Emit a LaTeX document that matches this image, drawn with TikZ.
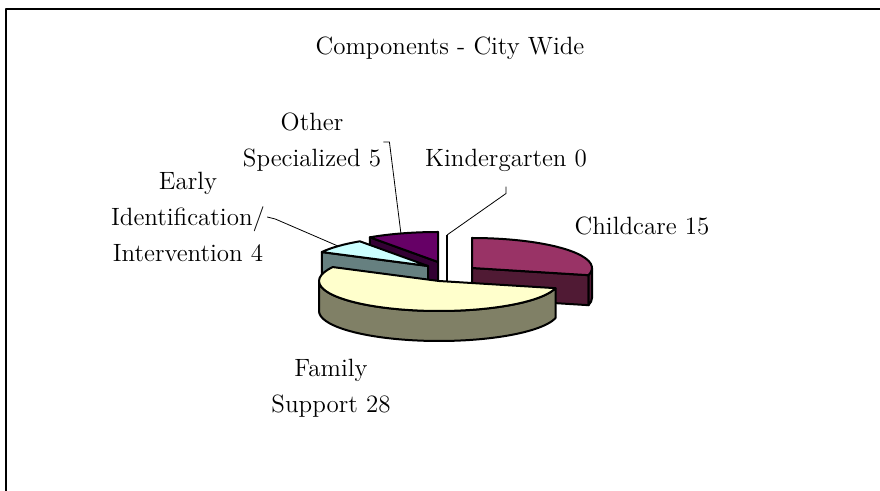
\documentclass[tikz,border=0pt]{standalone}
\usetikzlibrary{calc}
\definecolor{ccTop}{RGB}{153,51,102}
\definecolor{ccSide}{RGB}{80,26,52}
\definecolor{fsTop}{RGB}{255,255,204}
\definecolor{fsSide}{RGB}{128,128,102}
\definecolor{eiTop}{RGB}{204,255,255}
\definecolor{eiSide}{RGB}{102,128,128}
\definecolor{osTop}{RGB}{102,0,102}
\definecolor{osSide}{RGB}{51,0,51}
\begin{document}
\begin{tikzpicture}[x=0.5pt, y=0.5pt, line join=round,
    font=\fontsize{12.5}{18}\selectfont,
    lbl/.style={align=center, inner sep=1pt},
    rim/.style={line width=1pt},
    lead/.style={line width=0.4pt}]
    % Components - City Wide, exploded pie
    \def\rx{120}
    \def\ry{30}
    \def\dep{30}
    \def\aA{90}
    \def\aB{-13.846}
    \def\aC{152.308}
    \def\aD{124.615}
    \def\aE{346.154}
    \def\aF{-207.692}
    \useasboundingbox (0,0) rectangle (880,-491);
    \draw[line width=1pt] (6,-491) -- (6,-9) -- (880,-9);

    \coordinate (OS) at (438,-262);
    \coordinate (EI) at (428,-266);
    \coordinate (KG) at (447,-265);
    \coordinate (CC) at (472,-268);
    \coordinate (FS) at (439,-281);

    % other specialized
    \filldraw[rim, fill=osSide] (OS) -- ($(OS)+(\aD:{\rx} and {\ry})$) -- ++(0,-\dep) -- ($(OS)+(0,-\dep)$) -- cycle;
    \filldraw[rim, fill=osTop] (OS) -- ($(OS)+(\aD:{\rx} and {\ry})$) arc (\aD:\aA:{\rx} and {\ry}) -- cycle;

    % early identification
    \filldraw[rim, fill=eiSide] (EI) -- ($(EI)+(\aC:{\rx} and {\ry})$) -- ++(0,-\dep) -- ($(EI)+(0,-\dep)$) -- cycle;
    \filldraw[rim, fill=eiTop] (EI) -- ($(EI)+(\aC:{\rx} and {\ry})$) arc (\aC:\aD:{\rx} and {\ry}) -- cycle;

    % kindergarten, zero slice
    \draw[rim] ($(KG)+(0,\ry)$) -- ($(KG)+(0,-\dep)$);

    % childcare
    \filldraw[rim, fill=ccSide] (CC) -- ($(CC)+(\aB:{\rx} and {\ry})$) -- ++(0,-\dep) -- ($(CC)+(0,-\dep)$) -- cycle;
    \filldraw[rim, fill=ccSide] ($(CC)+(\rx,0)$) arc (0:\aB:{\rx} and {\ry}) -- ++(0,-\dep) arc (\aB:0:{\rx} and {\ry}) -- cycle;
    \filldraw[rim, fill=ccTop] (CC) -- ++(0,\ry) arc (\aA:\aB:{\rx} and {\ry}) -- cycle;

    % family support
    \filldraw[rim, fill=fsSide] ($(FS)+(-\rx,0)$) arc (180:\aE:{\rx} and {\ry}) -- ++(0,-\dep) arc (\aE:180:{\rx} and {\ry}) -- cycle;
    \filldraw[rim, fill=fsTop] (FS) -- ($(FS)+(\aB:{\rx} and {\ry})$) arc (\aB:\aF:{\rx} and {\ry}) -- cycle;

    \node[lbl, anchor=base] (title) at (450,-55) {Components - City Wide};
    \node[lbl, anchor=base] (cc) at (642,-235) {Childcare 15};
    \node[lbl, anchor=base] (kg) at (506,-167) {Kindergarten 0};
    \node[lbl] (os) at (312,-142) {Other\\Specialized 5};
    \node[lbl] (ei) at (188,-217) {Early\\Identification/\\Intervention 4};
    \node[lbl] (fs) at (331,-388) {Family\\Support 28};

    \draw[lead] (os.east) -- ++(6,0) -- ($(OS)+(108:{\rx} and {\ry})$);
    \draw[lead] ($(kg.south)+(0,-12)$) -- ++(0,-7) -- ($(KG)+(0,\ry)$);
    \draw[lead] (ei.east) -- ++(8,-2) -- ($(EI)+(138.5:{\rx} and {\ry})$);
\end{tikzpicture}
\end{document}
